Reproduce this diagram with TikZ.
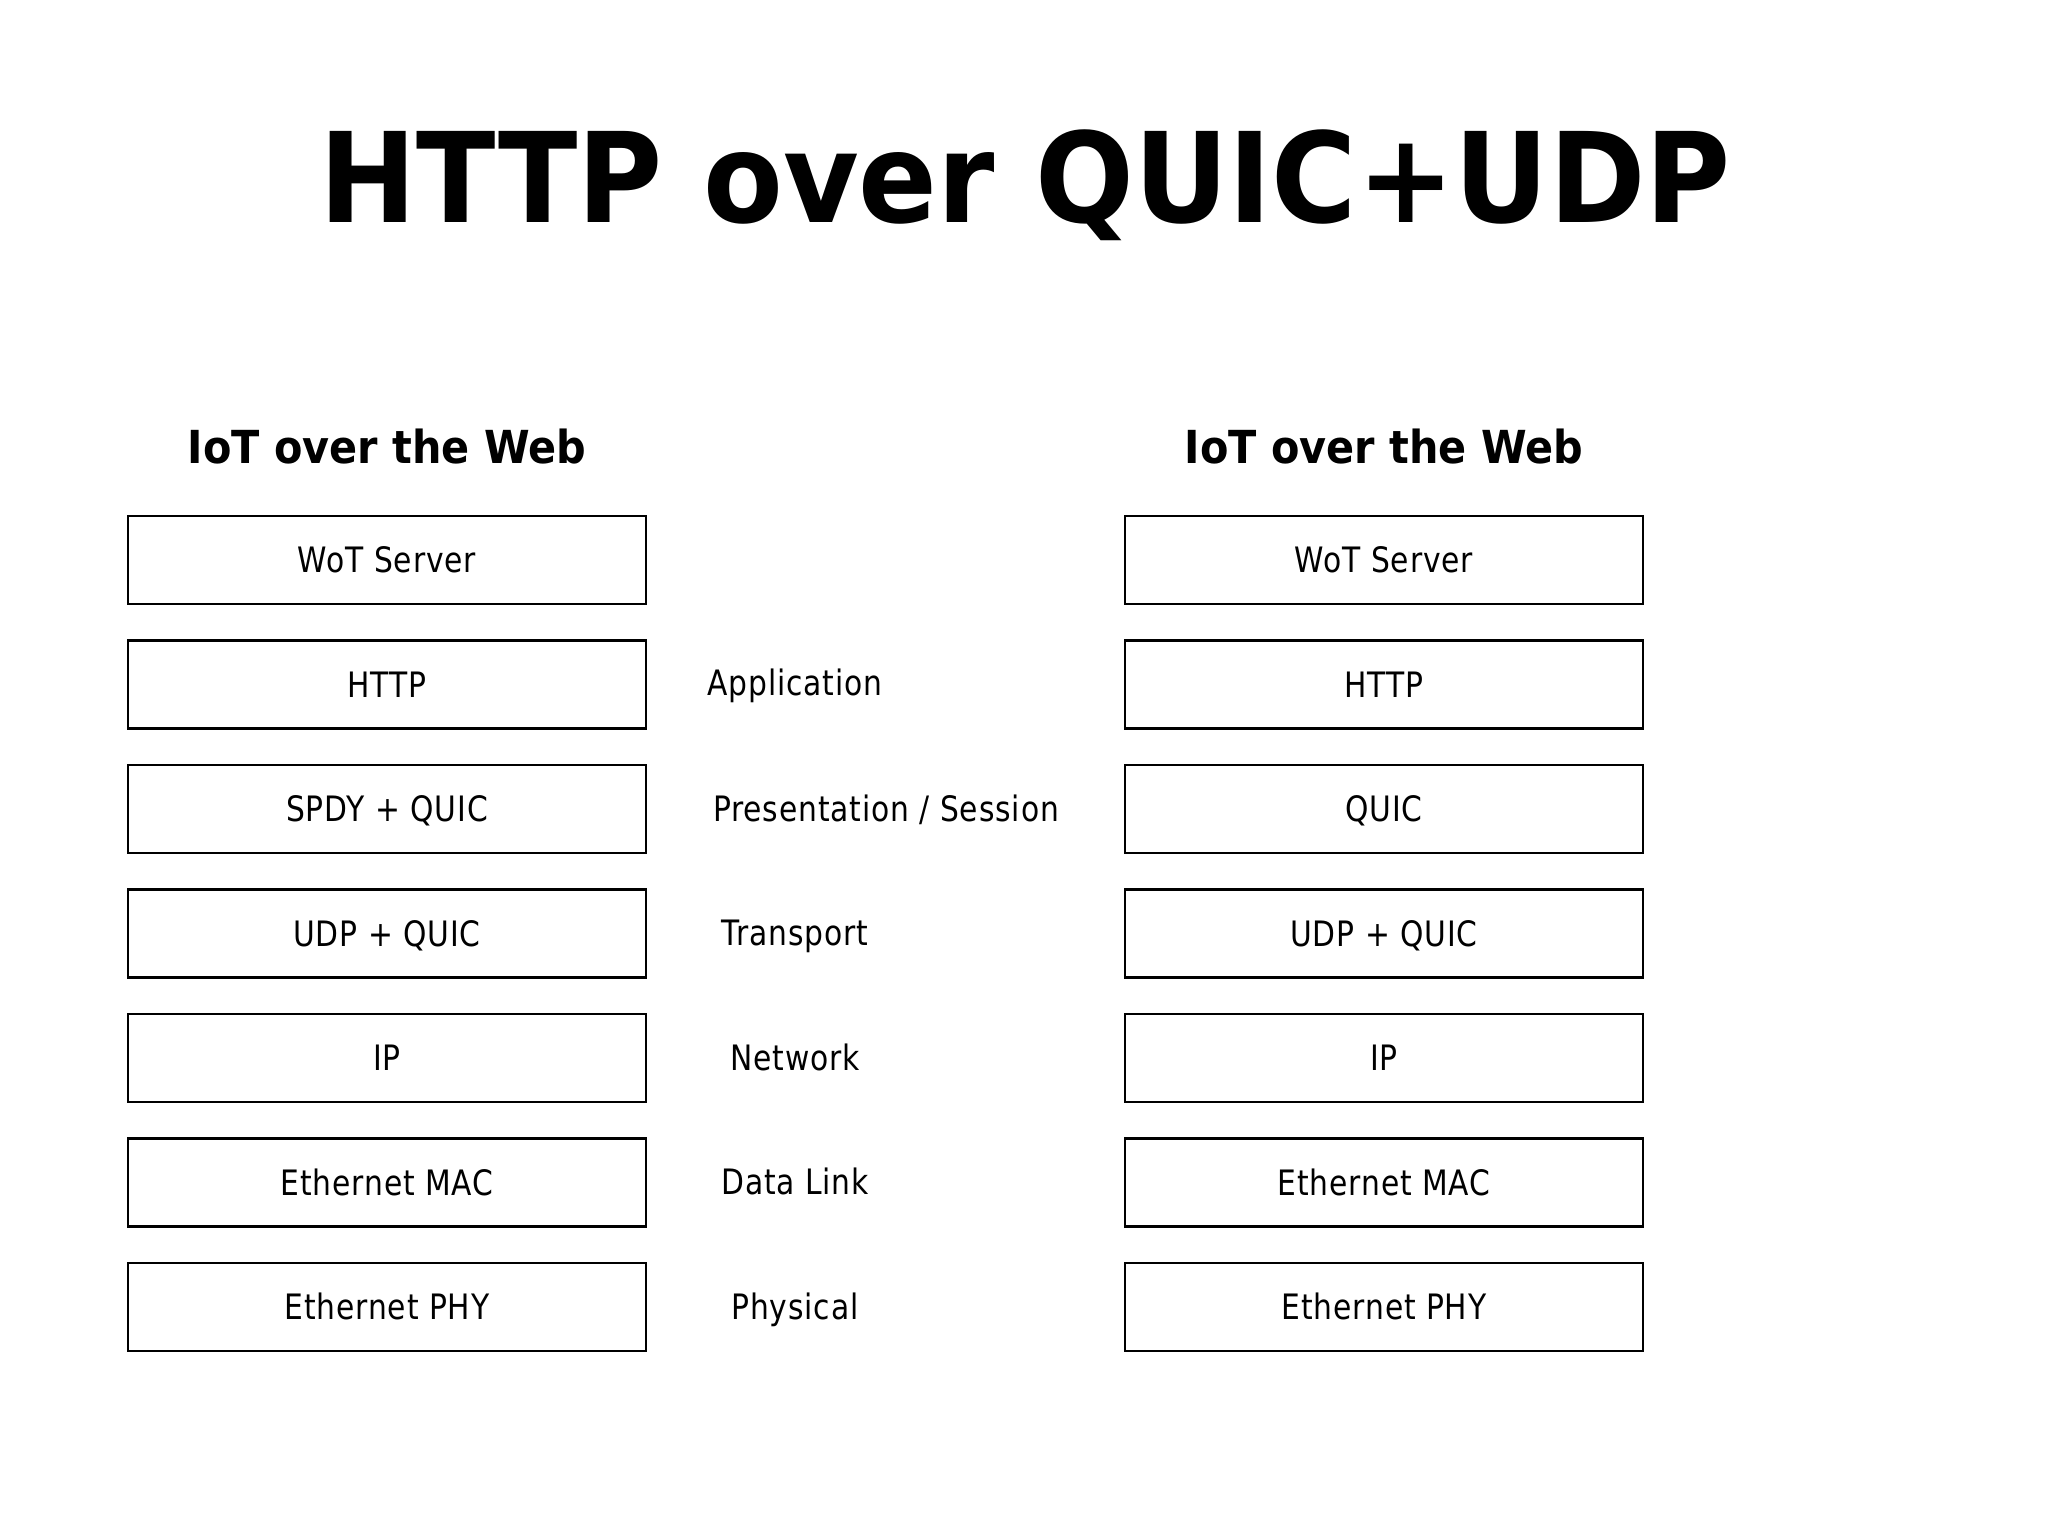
\documentclass[tikz,border=0pt]{standalone}
\usepackage{fontspec}
\setmainfont{DejaVu Sans}
\newfontfamily\titlefont[FakeStretch=0.93]{DejaVu Sans Bold}
\newfontfamily\headfont[FakeStretch=0.91]{DejaVu Sans Bold}
\newfontfamily\bodyfont[FakeStretch=0.85,LetterSpace=2.5]{DejaVu Sans}
\begin{document}
\begin{tikzpicture}[x=1pt,y=-1pt,
  layer/.style={draw=black,line width=2.6pt,minimum width=518pt,minimum height=88pt,inner sep=0pt},
  ltext/.style={anchor=base,inner sep=0pt,font=\bodyfont\fontsize{35}{40}\selectfont},
  head/.style={anchor=base,inner sep=0pt,font=\headfont\fontsize{45.5}{50}\selectfont},
  ttl/.style={anchor=base,inner sep=0pt,font=\titlefont\fontsize{125}{130}\selectfont}]
\useasboundingbox[fill=white] (0,0) rectangle (2048,1536);
\node[ttl] (title) at (1025,222) {HTTP over QUIC+UDP};
\node[head] (headL) at (387,463) {IoT over the Web};
\node[head] (headR) at (1384,463) {IoT over the Web};
% boxes
\foreach \n/\y/\a/\b in {wot/560/WoT Server/WoT Server,
                        http/684.5/HTTP/HTTP,
                        spdy/809/SPDY + QUIC/QUIC,
                        udp/933.5/UDP + QUIC/UDP + QUIC,
                        ip/1058/IP/IP,
                        mac/1182.5/Ethernet MAC/Ethernet MAC,
                        phy/1307/Ethernet PHY/Ethernet PHY}{
  \node[layer] (L\n) at (387,\y) {};
  \node[ltext] (Lt\n) at (387,\y+12.5) {\a};
  \node[layer] (R\n) at (1384,\y) {};
  \node[ltext] (Rt\n) at (1384,\y+12.5) {\b};
}
% OSI labels
\node[ltext] (app) at (795,684.5+11) {Application};
\node[ltext] (pres) at (886,809+12) {Presentation / Session};
\node[ltext] (trans) at (795,933.5+12) {Transport};
\node[ltext] (net) at (795,1058+12) {Network};
\node[ltext] (dl) at (795,1182.5+12) {Data Link};
\node[ltext] (phys) at (795,1307+12) {Physical};
\end{tikzpicture}
\end{document}
